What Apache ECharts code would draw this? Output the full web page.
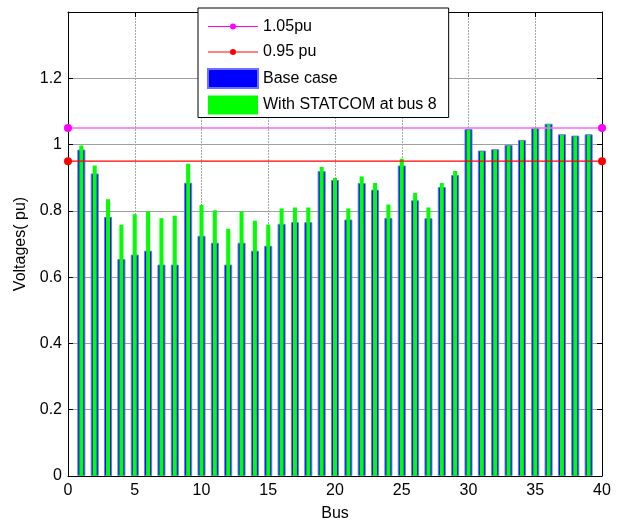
<!DOCTYPE html>
<html><head><meta charset="utf-8">
<script src="https://cdn.jsdelivr.net/npm/echarts@6/dist/echarts.min.js"></script>
<style>html,body{margin:0;padding:0;background:#fff}#c{width:617px;height:523px}</style>
</head><body><div id="c"></div>
<script>
const buses = [1,2,3,4,5,6,7,8,9,10,11,12,13,14,15,16,17,18,19,20,21,22,23,24,25,26,27,28,29,30,31,32,33,34,35,36,37,38,39];
const baseCase = [0.985,0.913,0.782,0.655,0.668,0.680,0.638,0.638,0.885,0.725,0.704,0.638,0.704,0.680,0.695,0.761,0.766,0.766,0.920,0.893,0.774,0.884,0.864,0.779,0.937,0.832,0.778,0.872,0.908,1.047,0.982,0.986,0.999,1.014,1.051,1.063,1.031,1.027,1.031];
const withStatcom = [0.997,0.937,0.835,0.758,0.790,0.798,0.778,0.785,0.942,0.818,0.802,0.746,0.798,0.770,0.758,0.807,0.810,0.810,0.932,0.899,0.807,0.904,0.884,0.819,0.957,0.854,0.810,0.884,0.920,1.045,0.980,0.984,0.997,1.012,1.049,1.061,1.029,1.025,1.029];
const upperLimit = 1.05, lowerLimit = 0.95;
const xRange = [0, 40];
const F = 'Liberation Sans, Arial, sans-serif';

// legend icon: thin line with a small dot; tiny corner specks fix the bounding box to 50x19
const lineIcon = 'path://M0,0 L0.01,0 L0,0.01 Z M50,19 L49.99,19 L50,18.99 Z ' +
  'M0,9 L50,9 L50,10 L0,10 Z M25,6.5 A3,3 0 1 1 25,12.5 A3,3 0 1 1 25,6.5 Z';

const chart = echarts.init(document.getElementById('c'), null, {renderer:'canvas'});
const axisCommon = {
  type:'value', min:xRange[0], max:xRange[1], interval:5,
  axisLine:{show:true, onZero:false, lineStyle:{color:'#000', width:1}},
  axisTick:{show:true, inside:true, length:5, lineStyle:{color:'#000'}},
};
chart.setOption({
  animation:false,
  backgroundColor:'#fff',
  grid:{left:68, right:15, top:12, bottom:47, containLabel:false, outerBoundsMode:'none'},
  legend:{
    orient:'vertical', left:198, top:8,
    backgroundColor:'#fff', borderColor:'#000', borderWidth:1,
    padding:[9, 12, 3, 9], itemGap:6.5, itemWidth:50, itemHeight:19,
    textStyle:{fontFamily:F, fontSize:16, color:'#000'},
    data:[
      {name:'1.05pu', icon:lineIcon, itemStyle:{color:'#ff00ff'}},
      {name:'0.95 pu', icon:lineIcon, itemStyle:{color:'#ff0000'}},
      {name:'Base case', icon:'rect'},
      {name:'With STATCOM at bus 8', icon:'rect'}
    ]
  },
  xAxis:[
    Object.assign({}, axisCommon, {position:'bottom',
      name:'Bus', nameLocation:'middle', nameGap:30,
      nameTextStyle:{fontFamily:F, fontSize:16, color:'#000'},
      axisLabel:{fontFamily:F, fontSize:16, color:'#000', margin:7},
      splitLine:{show:true, lineStyle:{color:'#a8a8a8', width:1, type:[2,1]}}}),
    Object.assign({}, axisCommon, {position:'top', axisLabel:{show:false}, splitLine:{show:false}})
  ],
  yAxis:[
    {type:'value', min:0, max:1.4, interval:0.2, position:'left',
      name:'Voltages( pu)', nameLocation:'middle', nameGap:35, nameRotate:90,
      nameTextStyle:{fontFamily:F, fontSize:16, color:'#000'},
      axisLine:{show:true, onZero:false, lineStyle:{color:'#000'}},
      axisTick:{show:true, inside:true, length:5, lineStyle:{color:'#000'}},
      axisLabel:{fontFamily:F, fontSize:16, color:'#000', margin:6,
        formatter:v => (Math.abs(v-1.4)<1e-6 ? '' : String(Math.round(v*10)/10))},
      splitLine:{show:true, lineStyle:{color:'#a0a0a0', width:1}}},
    {type:'value', min:0, max:1.4, interval:0.2, position:'right',
      axisLine:{show:true, onZero:false, lineStyle:{color:'#000'}},
      axisTick:{show:true, inside:true, length:5, lineStyle:{color:'#000'}},
      axisLabel:{show:false}, splitLine:{show:false}}
  ],
  series:[
    {name:'1.05pu', type:'line', xAxisIndex:0, yAxisIndex:0,
      data:[[xRange[0], upperLimit],[xRange[1], upperLimit]],
      symbol:'circle', symbolSize:8, z:5,
      lineStyle:{color:'#ff66ff', width:1.5},
      itemStyle:{color:'#ff00ff'}},
    {name:'0.95 pu', type:'line', xAxisIndex:0, yAxisIndex:0,
      data:[[xRange[0], lowerLimit],[xRange[1], lowerLimit]],
      symbol:'circle', symbolSize:8, z:5,
      lineStyle:{color:'#ff0000', width:1.2},
      itemStyle:{color:'#ff0000'}},
    {name:'Base case', type:'bar', xAxisIndex:0, yAxisIndex:0,
      data:buses.map((b,i)=>[b, baseCase[i]]), barWidth:8, z:2,
      itemStyle:{color:'#0000ff', borderColor:'#7070ff', borderWidth:1}},
    {name:'With STATCOM at bus 8', type:'bar', xAxisIndex:1, yAxisIndex:0,
      data:buses.map((b,i)=>[b, withStatcom[i]]), barWidth:4, z:3,
      itemStyle:{color:'#00ff00'}}
  ]
});
</script></body></html>
